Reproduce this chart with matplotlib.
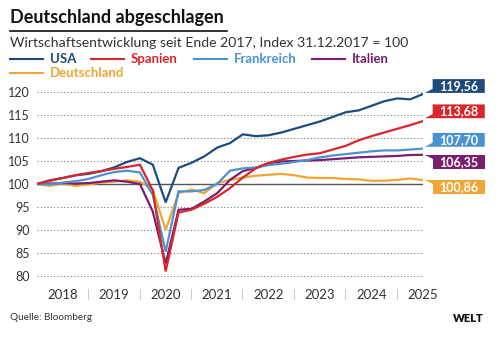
import numpy as np
import matplotlib.pyplot as plt
from matplotlib.lines import Line2D
from matplotlib.patches import Polygon

plt.rcParams['font.family'] = ['Lato', 'DejaVu Sans']

# Quartalswerte von Q4 2017 bis Q2 2025, Index 31.12.2017 = 100
quartale = np.arange(31)
jahre = ['2018', '2019', '2020', '2021', '2022', '2023', '2024', '2025']

usa = [100, 100.8, 101.3, 101.9, 102.2, 102.8, 103.6, 104.8, 105.6, 104.2, 96.0,
       103.5, 104.6, 106.0, 107.9, 108.9, 110.8, 110.4, 110.6, 111.2, 112.0,
       112.8, 113.6, 114.6, 115.6, 116.0, 117.0, 118.0, 118.6, 118.4, 119.56]
spanien = [100, 100.7, 101.3, 101.9, 102.4, 102.8, 103.3, 103.7, 104.2, 98.6, 81.0,
           93.8, 94.4, 95.7, 97.2, 99.1, 101.4, 103.4, 104.6, 105.3, 105.9,
           106.4, 106.7, 107.5, 108.3, 109.5, 110.4, 111.2, 112.0, 112.8, 113.68]
frankreich = [100, 99.9, 100.3, 100.6, 101.1, 101.9, 102.6, 102.9, 102.5, 97.6, 85.3,
              98.4, 98.4, 98.7, 100.0, 102.9, 103.4, 103.6, 104.1, 104.4, 104.8,
              105.2, 105.8, 106.2, 106.5, 106.8, 107.1, 107.3, 107.3, 107.5, 107.70]
italien = [100, 100.1, 100.2, 100.1, 100.2, 100.5, 100.8, 100.5, 100.0, 94.0, 82.7,
           94.4, 94.6, 96.2, 98.0, 100.9, 102.8, 103.5, 104.5, 104.9, 105.0,
           105.1, 105.2, 105.4, 105.6, 105.8, 105.9, 106.0, 106.1, 106.3, 106.35]
deutschland = [100, 99.6, 100.1, 99.6, 99.9, 100.3, 100.5, 100.8, 100.5, 98.8, 90.0,
               98.0, 98.8, 98.0, 100.2, 100.9, 101.4, 101.8, 102.0, 102.2, 101.9,
               101.4, 101.3, 101.3, 101.1, 101.0, 100.7, 100.7, 100.9, 101.2, 100.86]

namen = ['USA', 'Spanien', 'Frankreich', 'Italien', 'Deutschland']
farben = {'USA': '#1e4a7c', 'Spanien': '#d9262a', 'Frankreich': '#4b92d2',
          'Italien': '#7a1f6e', 'Deutschland': '#f0a632'}
reihen = {'USA': usa, 'Spanien': spanien, 'Frankreich': frankreich,
          'Italien': italien, 'Deutschland': deutschland}

W, H = 500, 340
fig = plt.figure(figsize=(5, 3.4), dpi=100)
fig.patch.set_facecolor('white')

def fx(px):
    return px / W

def fy(py):
    return 1 - py / H

# Plotbereich: x 0..30 zwischen Pixel 37 und 423
ax = fig.add_axes([fx(37), fy(285.2), fx(423) - fx(37), fy(82.8) - fy(285.2)])
ax.set_xlim(0, 30)
ax.set_ylim(78, 122)
for s in ax.spines.values():
    s.set_visible(False)
ax.set_xticks([])
ax.set_yticks(range(80, 121, 5))
ax.tick_params(axis='y', length=0, pad=5, labelsize=9, labelcolor='#333333')

for v in range(80, 121, 5):
    if v == 100:
        ax.hlines(v, 0, 30, color='#555555', lw=1.0, zorder=1)
    else:
        ax.hlines(v, 0, 30, color='#777777', lw=0.8, linestyle=(0, (1, 2)), zorder=1)

for name in ['Deutschland', 'Italien', 'USA', 'Frankreich', 'Spanien']:
    ax.plot(quartale, reihen[name], color=farben[name], lw=1.6, zorder=3,
            solid_joinstyle='miter')

# Jahresbeschriftung mit Trennstrichen
for k, j in enumerate(jahre):
    ax.text(2 + 4 * k, 75.9, j, ha='center', va='center', fontsize=9.5,
            color='#333333', clip_on=False)
for k in range(1, 8):
    ax.text(4 * k, 75.9, '|', ha='center', va='center', fontsize=8,
            color='#bbbbbb', clip_on=False)

# Wertkästchen am rechten Rand
label_y = {'USA': 121.3, 'Spanien': 115.8, 'Frankreich': 109.6,
           'Italien': 104.8, 'Deutschland': 99.4}
nach_unten = {'USA': True, 'Spanien': True, 'Frankreich': True,
              'Italien': False, 'Deutschland': False}
x0, x1, h = 30.75, 34.8, 3.0
for name in namen:
    yc = label_y[name]
    if nach_unten[name]:
        pts = [(x0, yc + h / 2), (x1, yc + h / 2), (x1, yc - h / 2),
               (x0 - 0.6, yc - h / 2), (x0, yc - h / 2 + 0.9)]
    else:
        pts = [(x0 - 0.6, yc + h / 2), (x1, yc + h / 2), (x1, yc - h / 2),
               (x0, yc - h / 2), (x0, yc + h / 2 - 0.9)]
    ax.add_patch(Polygon(pts, closed=True, facecolor=farben[name],
                         edgecolor='none', clip_on=False, zorder=4))
    wert = f'{reihen[name][-1]:.2f}'.replace('.', ',')
    ax.text((x0 + x1) / 2, yc, wert, ha='center', va='center', fontsize=9,
            weight='bold', color='white', clip_on=False, zorder=5)

# Titel, Untertitel, Legende
fig.text(fx(10), fy(17), 'Deutschland abgeschlagen', fontsize=13,
         weight='bold', color='#111111', va='center')
fig.add_artist(Line2D([fx(10), fx(227)], [fy(31), fy(31)], color='#111111', lw=1.2))
fig.text(fx(10), fy(43), 'Wirtschaftsentwicklung seit Ende 2017, Index 31.12.2017 = 100',
         fontsize=10.1, color='#333333', va='center')

legende = [('USA', 10, 59), ('Spanien', 91, 59), ('Frankreich', 194, 59),
           ('Italien', 312, 59), ('Deutschland', 10, 73)]
for name, px, py in legende:
    fig.add_artist(Line2D([fx(px), fx(px + 33)], [fy(py), fy(py)],
                          color=farben[name], lw=1.5))
    fig.text(fx(px + 40), fy(py), name, fontsize=9.5, weight='bold',
             color=farben[name], va='center')

fig.text(fx(10), fy(318), 'Quelle: Bloomberg', fontsize=7.2, color='#333333', va='center')
fig.text(fx(484), fy(318), 'WELT', fontsize=8, weight='heavy', color='#111111',
         va='center', ha='right')

fig.savefig('out.png', dpi=100)
